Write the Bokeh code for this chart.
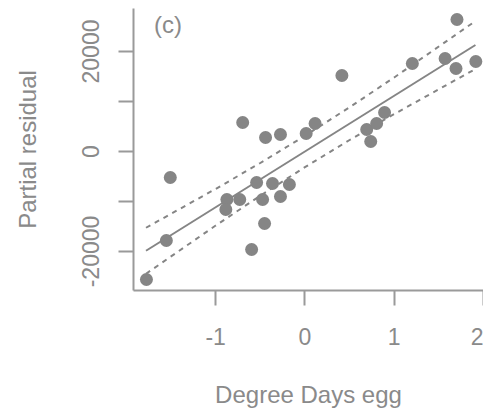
from bokeh.plotting import figure
from bokeh.models import Range1d, FixedTicker, Label
from bokeh.embed import file_html
from bokeh.resources import INLINE

# Partial residual data
degree_days = [-1.775, -1.552, -1.508, -0.874, -0.886, -0.730, -0.697, -0.597,
               -0.541, -0.363, -0.174, -0.474, -0.274, -0.452, -0.441, -0.274,
               0.014, 0.114, 0.414, 0.692, 0.737, 0.803, 0.892, 1.203,
               1.570, 1.692, 1.703, 1.914]
partial_resid = [-25600, -17800, -5200, -9600, -11600, -9600, 5800, -19600,
                 -6200, -6400, -6600, -9600, -9000, -14400, 2800, 3400,
                 3600, 5600, 15200, 4400, 2000, 5600, 7800, 17600,
                 18600, 16600, 26400, 18000]

# Fitted line and confidence band
fit_x = [-1.78, 1.91]
fit_y = [-19850, 21300]
band_x = [-1.78, -1.0, -0.5, 0.0, 0.5, 1.0, 1.91]
band_upper = [-15250, -7490, -2300, 3130, 8850, 14810, 26090]
band_lower = [-24450, -14810, -8850, -3130, 2300, 7490, 16510]

x_ticks = [-1, 0, 1, 2]
x_tick_labels = {-1: "-1", 0: "0", 1: "1", 2: "2"}
y_ticks = [-20000, -10000, 0, 10000, 20000]
y_tick_labels = {-20000: "-20000", -10000: "", 0: "0", 10000: "", 20000: "20000"}

GREY = "#858585"
TEXT = "#8a8a8a"
AXIS = "#9a9a9a"
FONT = "Liberation Sans"

p = figure(width=483, height=411, output_backend="svg", toolbar_location=None,
           x_range=Range1d(-1.92, 2.0), y_range=Range1d(-27800, 28600),
           min_border_left=133, min_border_right=0, min_border_top=8,
           min_border_bottom=121)
p.grid.visible = False
p.outline_line_color = None
p.background_fill_color = "white"
p.border_fill_color = "white"

p.line(fit_x, fit_y, line_color=GREY, line_width=2)
p.line(band_x, band_upper, line_color=GREY, line_width=2, line_dash="5 5")
p.line(band_x, band_lower, line_color=GREY, line_width=2, line_dash="5 5")
p.scatter(degree_days, partial_resid, size=13, fill_color=GREY, line_color=None)

for ax in (p.xaxis[0], p.yaxis[0]):
    ax.axis_line_color = AXIS
    ax.axis_line_width = 2
    ax.major_tick_line_color = AXIS
    ax.major_tick_line_width = 2
    ax.major_tick_out = 15
    ax.major_tick_in = 0
    ax.minor_tick_line_color = None
    ax.major_label_text_font = FONT
    ax.major_label_text_font_size = "23px"
    ax.major_label_text_color = TEXT
    ax.axis_label_text_font = FONT
    ax.axis_label_text_font_size = "24px"
    ax.axis_label_text_color = TEXT
    ax.axis_label_text_font_style = "normal"

p.xaxis.ticker = FixedTicker(ticks=x_ticks)
p.xaxis.major_label_overrides = x_tick_labels
p.xaxis.axis_label = "Degree Days egg"
p.xaxis.major_label_standoff = 22
p.xaxis.axis_label_standoff = 33

p.yaxis.ticker = FixedTicker(ticks=y_ticks)
p.yaxis.major_label_overrides = y_tick_labels
p.yaxis.major_label_orientation = "vertical"
p.yaxis.axis_label = "Partial residual"
p.yaxis.major_label_standoff = 20
p.yaxis.axis_label_standoff = 38

p.add_layout(Label(x=-1.69, y=28200, text="(c)", text_font=FONT,
                   text_font_size="24px", text_color=TEXT, text_baseline="top"))

open("out.html", "w").write(file_html(p, INLINE))
